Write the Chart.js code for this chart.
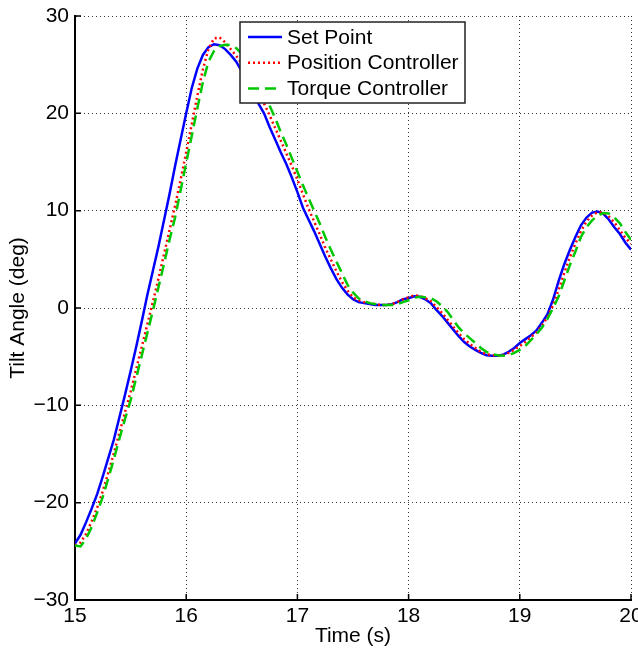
<!DOCTYPE html>
<html>
<head>
<meta charset="utf-8">
<script src="https://cdn.jsdelivr.net/npm/chart.js@4"></script>
<style>
  html, body { margin: 0; padding: 0; background: #fff; overflow: hidden; }
  canvas { display: block; }
</style>
</head>
<body>
<canvas id="grafico" width="638" height="651"></canvas>
<script>
// Datos (tiempo en s, angulo en grados)
const tiempos = [
  15.00,15.05,15.10,15.15,15.20,15.25,15.30,15.35,15.40,15.45,
  15.50,15.55,15.60,15.65,15.70,15.75,15.80,15.85,15.90,15.95,
  16.00,16.05,16.10,16.15,16.20,16.25,16.30,16.35,16.40,16.45,
  16.50,16.55,16.60,16.65,16.70,16.75,16.80,16.85,16.90,16.95,
  17.00,17.05,17.10,17.15,17.20,17.25,17.30,17.35,17.40,17.45,
  17.50,17.55,17.60,17.65,17.70,17.75,17.80,17.85,17.90,17.95,
  18.00,18.05,18.10,18.15,18.20,18.25,18.30,18.35,18.40,18.45,
  18.50,18.55,18.60,18.65,18.70,18.75,18.80,18.85,18.90,18.95,
  19.00,19.05,19.10,19.15,19.20,19.25,19.30,19.35,19.40,19.45,
  19.50,19.55,19.60,19.65,19.70,19.75,19.80,19.85,19.90,19.95,
  20.00
];

const setPoint = [
  -24.2,-23.3,-22.0,-20.6,-19.1,-17.3,-15.4,-13.5,-11.2,-8.9,
  -6.5,-4.0,-1.4,1.3,3.8,6.3,9.0,11.7,14.6,17.3,
  20.0,22.6,24.6,26.0,26.8,27.1,27.0,26.6,26.0,25.3,
  24.3,23.2,22.0,21.0,20.0,18.6,17.3,16.0,14.8,13.4,
  11.9,10.3,9.1,7.9,6.6,5.3,4.1,3.0,2.1,1.4,
  0.9,0.6,0.5,0.4,0.3,0.3,0.3,0.4,0.6,0.9,
  1.0,1.2,1.15,0.9,0.5,-0.2,-0.8,-1.5,-2.2,-2.9,
  -3.5,-3.95,-4.3,-4.6,-4.85,-4.9,-4.9,-4.8,-4.5,-4.1,
  -3.6,-3.2,-2.8,-2.3,-1.5,-0.6,0.9,2.8,4.5,5.95,
  7.3,8.5,9.3,9.8,9.9,9.7,9.1,8.3,7.6,6.7,
  6.0
];

const posicion = [
  -24.4,-24.1,-23.2,-21.9,-20.5,-18.8,-16.9,-14.9,-12.8,-10.7,
  -8.6,-6.3,-4.0,-1.7,0.6,3.0,5.5,8.0,10.5,13.2,
  16.0,18.9,21.8,24.5,26.6,27.7,27.8,27.3,26.6,25.9,
  25.1,24.1,23.0,22.0,21.0,19.8,18.5,17.2,15.9,14.6,
  13.2,11.7,10.2,8.9,7.6,6.2,5.0,3.8,2.7,1.8,
  1.1,0.8,0.6,0.5,0.4,0.3,0.3,0.4,0.6,0.9,
  1.1,1.3,1.25,1.0,0.7,0.1,-0.5,-1.2,-1.9,-2.6,
  -3.2,-3.7,-4.1,-4.5,-4.75,-4.85,-4.9,-4.85,-4.6,-4.3,
  -3.9,-3.5,-3.0,-2.5,-1.8,-0.9,0.3,1.9,3.6,5.2,
  6.6,7.9,8.9,9.5,9.85,9.8,9.4,8.8,8.0,7.2,
  6.6
];

const torque = [
  -24.4,-24.5,-23.7,-22.5,-21.0,-19.4,-17.5,-15.5,-13.4,-11.4,
  -9.5,-7.2,-4.9,-2.6,-0.3,2.1,4.5,7.0,9.3,12.1,
  14.9,17.7,20.5,23.2,25.3,26.4,26.9,27.05,27.0,26.7,
  26.1,25.3,24.3,23.2,22.2,20.8,19.5,18.1,16.8,15.4,
  14.0,12.6,11.3,10.0,8.7,7.3,6.0,4.8,3.6,2.4,
  1.6,1.0,0.7,0.5,0.4,0.3,0.3,0.3,0.4,0.6,
  0.8,1.05,1.15,1.1,1.0,0.7,0.2,-0.4,-1.2,-2.0,
  -2.6,-3.1,-3.6,-4.1,-4.5,-4.75,-4.85,-4.9,-4.85,-4.6,
  -4.3,-3.9,-3.3,-2.7,-2.0,-1.1,0.0,1.2,2.8,4.4,
  5.8,7.3,8.3,9.0,9.5,9.75,9.7,9.3,8.7,7.8,
  7.0
];

const etiquetas = ['Set Point', 'Position Controller', 'Torque Controller'];

const FUENTE = '"Liberation Sans", Arial, Helvetica, sans-serif';

function aPuntos(valores) {
  return tiempos.map((t, i) => ({ x: t, y: valores[i] }));
}

function formatoMenos(v) {
  return v < 0 ? '\u2212' + Math.abs(v) : String(v);
}

// Marcas de tick hacia adentro, estilo MATLAB
const ticksAdentro = {
  id: 'ticksAdentro',
  afterDatasetsDraw(chart) {
    const { ctx, chartArea, scales } = chart;
    ctx.save();
    ctx.strokeStyle = '#000';
    ctx.lineWidth = 1.5;
    ctx.beginPath();
    scales.y.ticks.forEach(t => {
      const py = scales.y.getPixelForValue(t.value);
      ctx.moveTo(chartArea.left, py);
      ctx.lineTo(chartArea.left + 6, py);
    });
    scales.x.ticks.forEach(t => {
      const px = scales.x.getPixelForValue(t.value);
      ctx.moveTo(px, chartArea.bottom);
      ctx.lineTo(px, chartArea.bottom - 6);
    });
    ctx.stroke();
    ctx.restore();
  }
};

// Leyenda con caja, dibujada a mano
const leyendaCaja = {
  id: 'leyendaCaja',
  afterDraw(chart) {
    const { ctx } = chart;
    const x0 = 240, y0 = 22, ancho = 225, alto = 81;
    ctx.save();
    ctx.fillStyle = '#fff';
    ctx.fillRect(x0, y0, ancho, alto);
    ctx.strokeStyle = '#222';
    ctx.lineWidth = 1.5;
    ctx.strokeRect(x0, y0, ancho, alto);
    ctx.font = '21px ' + FUENTE;
    ctx.textBaseline = 'middle';
    chart.data.datasets.forEach((ds, i) => {
      const yy = y0 + 15 + i * 25.7;
      ctx.strokeStyle = ds.borderColor;
      ctx.lineWidth = ds.borderWidth;
      ctx.setLineDash(ds.borderDash || []);
      ctx.beginPath();
      ctx.moveTo(x0 + 8, yy);
      ctx.lineTo(x0 + 42, yy);
      ctx.stroke();
      ctx.setLineDash([]);
      ctx.fillStyle = '#000';
      ctx.fillText(ds.label, x0 + 47, yy + 1);
    });
    ctx.restore();
  }
};

new Chart(document.getElementById('grafico'), {
  type: 'line',
  data: {
    datasets: [
      {
        label: etiquetas[0],
        data: aPuntos(setPoint),
        borderColor: '#0000ff',
        borderWidth: 2.5,
        order: 2
      },
      {
        label: etiquetas[1],
        data: aPuntos(posicion),
        borderColor: '#ff0000',
        borderWidth: 2.5,
        borderDash: [2, 3],
        order: 1
      },
      {
        label: etiquetas[2],
        data: aPuntos(torque),
        borderColor: '#00c800',
        borderWidth: 2.5,
        borderDash: [11, 6],
        order: 0
      }
    ]
  },
  options: {
    responsive: false,
    animation: false,
    elements: { point: { radius: 0 }, line: { tension: 0 } },
    layout: { padding: { top: 16, right: 7, left: 0, bottom: 0 } },
    plugins: { legend: { display: false }, tooltip: { enabled: false } },
    scales: {
      x: {
        type: 'linear',
        min: 15,
        max: 20,
        afterFit(s) { s.height = 51; s.paddingLeft = 0; s.paddingRight = 0; },
        ticks: { stepSize: 1, color: '#000', padding: 4, font: { family: FUENTE, size: 21 } },
        grid: { color: '#333', lineWidth: 1, drawTicks: false },
        border: { color: '#000', width: 2, dash: [1, 3] },
        title: { display: true, text: 'Time (s)', color: '#000', padding: { top: 0, bottom: 2 }, font: { family: FUENTE, size: 21 } }
      },
      y: {
        min: -30,
        max: 30,
        afterFit(s) { s.width = 75; s.paddingTop = 0; s.paddingBottom = 0; },
        ticks: { stepSize: 10, color: '#000', padding: 6, callback: v => formatoMenos(v), font: { family: FUENTE, size: 21 } },
        grid: { color: '#333', lineWidth: 1, drawTicks: false },
        border: { color: '#000', width: 2, dash: [1, 3] },
        title: { display: true, text: 'Tilt Angle (deg)', color: '#000', padding: { top: 6, bottom: 0 }, font: { family: FUENTE, size: 21 } }
      }
    }
  },
  plugins: [ticksAdentro, leyendaCaja]
});
</script>
</body>
</html>
